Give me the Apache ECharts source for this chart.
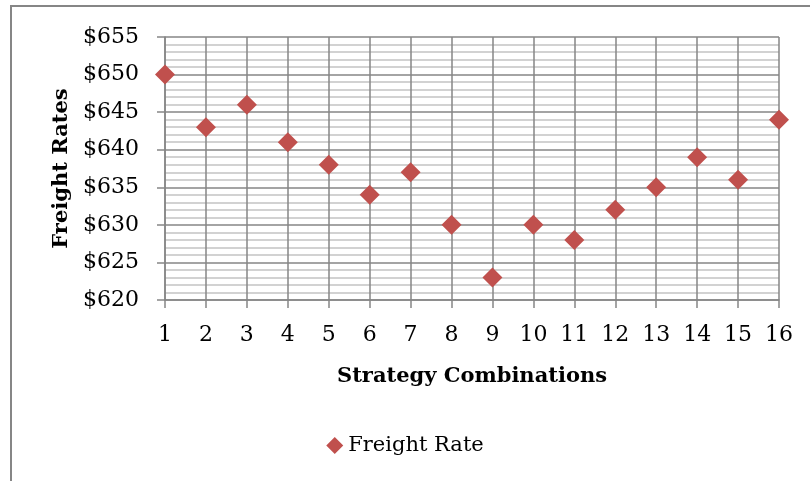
<!DOCTYPE html>
<html>
<head>
<meta charset="utf-8">
<script src="https://cdn.jsdelivr.net/npm/echarts@6/dist/echarts.min.js"></script>
<style>html,body{margin:0;padding:0;background:#fff}#c{width:810px;height:481px}</style>
</head>
<body>
<div id="c"></div>
<script>
// Freight rate per strategy combination
var combinations = [1, 2, 3, 4, 5, 6, 7, 8, 9, 10, 11, 12, 13, 14, 15, 16];
var freightRates = [650, 643, 646, 641, 638, 634, 637, 630, 623, 630, 628, 632, 635, 639, 636, 644];
var seriesName = 'Freight Rate';

var FONT = '"DejaVu Serif", "Liberation Serif", serif';
var chart = echarts.init(document.getElementById('c'), null, {renderer: 'canvas'});
chart.setOption({
  animation: false,
  backgroundColor: '#fff',
  graphic: [{
    type: 'rect', shape: {x: 11, y: 6, width: 830, height: 520},
    style: {fill: 'none', stroke: '#868686', lineWidth: 2}, silent: true
  }],
  grid: {left: 165, right: 31, top: 37, bottom: 181},
  legend: {
    data: [seriesName], bottom: 20, left: 'center', icon: 'diamond',
    itemWidth: 17, itemHeight: 17, itemGap: 3,
    itemStyle: {opacity: 1},
    textStyle: {fontFamily: FONT, fontSize: 21, color: '#000'}
  },
  xAxis: {
    type: 'value', min: 1, max: 16, interval: 1,
    name: 'Strategy Combinations', nameLocation: 'middle', nameGap: 66,
    nameTextStyle: {fontFamily: FONT, fontSize: 21, fontWeight: 'bold', color: '#000'},
    axisLine: {show: true, lineStyle: {color: '#868686', width: 1.5}},
    axisTick: {show: true, length: 8, lineStyle: {color: '#868686', width: 1.5}},
    axisLabel: {fontFamily: FONT, fontSize: 22, color: '#000', margin: 24},
    splitLine: {show: true, lineStyle: {color: '#868686', width: 1.5}}
  },
  yAxis: {
    type: 'value', min: 620, max: 655, interval: 5,
    name: 'Freight Rates', nameLocation: 'middle', nameGap: 92,
    nameTextStyle: {fontFamily: FONT, fontSize: 21, fontWeight: 'bold', color: '#000'},
    axisLine: {show: true, lineStyle: {color: '#868686', width: 1.5}},
    axisTick: {show: true, length: 8, lineStyle: {color: '#868686', width: 1.5}},
    axisLabel: {fontFamily: FONT, fontSize: 22, color: '#000', margin: 26,
      formatter: function (v) { return '$' + v; }},
    splitLine: {show: true, lineStyle: {color: '#868686', width: 1.5}},
    minorTick: {show: false, splitNumber: 5},
    minorSplitLine: {show: true, lineStyle: {color: '#c4c4c4', width: 1.5}}
  },
  series: [{
    name: seriesName, type: 'scatter', symbol: 'diamond', symbolSize: 20,
    itemStyle: {color: '#C0504D', opacity: 1},
    data: combinations.map(function (c, i) { return [c, freightRates[i]]; })
  }]
});
</script>
</body>
</html>
